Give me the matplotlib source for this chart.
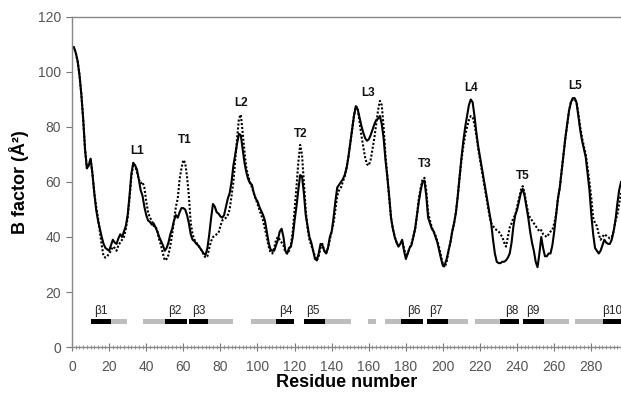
import matplotlib
matplotlib.use("Agg")
import matplotlib.pyplot as plt
from matplotlib.ticker import MultipleLocator
import numpy as np

plt.rcParams['font.family'] = ['Liberation Sans', 'DejaVu Sans']

residues = list(range(0, 297))

b_solid = [
    109, 109, 107, 104, 99, 92, 83, 72, 65, 66,
    68.5, 63, 56, 50, 46, 43, 40, 37.5, 36, 35.5,
    35, 37, 39, 38, 37.5, 39.5, 41, 40, 42, 44,
    48, 55, 63, 67, 66, 64.5, 61, 57, 55, 51,
    48, 46, 45.5, 44.5, 45, 43.5, 42, 40, 38.5, 37,
    35, 36, 38, 41, 43, 46, 48, 47, 49, 50.5,
    50.5, 50, 48, 45, 41, 39, 38.5, 37.5, 37, 36,
    35, 34, 33.5, 36, 41, 47, 52, 51, 49, 48.5,
    47.5, 47, 48, 51, 54, 56, 60, 66, 70, 74,
    77.5, 77, 72, 67, 63.5, 61, 59.5, 59, 56, 54,
    53, 51, 49.5, 48, 46, 42, 38, 35.5, 35, 35,
    37, 39, 42, 43, 40, 35, 34, 36, 36.5, 40,
    46, 51, 57, 62.5, 62, 56, 48, 44, 40, 38,
    35, 32, 31.5, 34, 37.5, 37, 35, 34, 36, 40,
    42, 47, 53, 58, 59, 60, 61, 62.5, 65, 69,
    74, 79, 84, 87.5, 86.5, 83.5, 80.5, 78, 76, 75,
    75.5, 77, 79, 81, 82.5, 83, 84, 81, 76, 68,
    62, 55, 47, 43, 40, 38, 36.5, 37.5, 39, 35,
    32, 34, 36, 37, 40, 43, 48, 53, 57, 60,
    60.5, 55, 47, 45, 43, 42, 40, 38, 35, 32,
    29.5, 30, 32, 35, 38, 42, 45, 49, 55, 62,
    69, 75, 80, 84, 88, 90, 89, 84, 78, 73,
    69, 65, 61, 57, 53, 49, 45, 39, 34, 31,
    30.5, 30.5, 31, 31, 31.5, 32.5, 34, 38, 44, 48,
    50, 53, 56, 57.5, 55, 51, 47, 42, 38, 35,
    31, 29, 34, 40, 36, 33, 33, 34, 34, 37,
    42, 48, 54, 58, 64, 70, 76, 81, 86, 89,
    90.5, 90.5, 89, 84, 79, 75, 72, 69, 63, 57,
    48, 41, 36, 35, 34, 35, 37, 39, 38, 37.5,
    37.5, 39, 42, 46, 52, 57, 60,
]

b_dotted = [
    109, 109, 107, 104, 99, 92, 83, 72, 65, 66,
    68.5, 63, 56, 51, 47, 42, 37, 33, 32.5, 33,
    34, 35, 36.5, 36, 35, 37, 38, 39, 40, 43,
    47, 54, 62, 66.5, 66, 63.5, 61, 59.5, 60, 58,
    53, 49, 47, 46, 44, 44, 42, 39, 37, 34,
    31.5, 32, 33.5, 37, 41, 46, 51, 54, 61, 65,
    68, 67, 62, 55, 45, 41, 39, 38, 37, 36,
    35, 33.5, 32.5, 33, 36, 38.5, 40, 40.5, 41, 41.5,
    44, 46, 46.5, 47, 48, 50, 55, 60, 68, 76,
    83, 84.5, 78, 71, 65, 62, 60, 58, 56, 54,
    52, 50, 48, 46, 43, 40, 36.5, 34.5, 34, 36,
    39, 40, 39, 38, 37, 34.5, 34, 35, 37, 42,
    50, 58, 67, 73.5, 70, 60, 50, 43, 39, 37,
    35, 33, 31.5, 33, 36, 37.5, 35, 34, 36, 39,
    42, 45, 50, 55, 57, 58, 60, 62, 65, 69,
    74, 79, 84, 87.5, 87, 82, 77, 73, 69, 66.5,
    66, 68, 72, 76, 81, 86, 89.5, 88, 80, 70,
    62, 54, 47, 43, 40, 38, 37, 37.5, 38.5, 36,
    33, 34, 36, 37.5, 40, 43, 48, 54, 58, 61,
    61.5, 57, 49, 46, 43.5, 42, 40.5, 38.5, 36, 33,
    30, 29, 31, 35, 38, 42, 45, 49, 55, 62,
    68, 73, 77, 80, 82.5, 84, 83.5, 81, 77, 72,
    68, 64, 60, 56, 52, 48, 45, 44, 43, 42.5,
    42, 41, 40, 38, 36.5, 40, 43.5, 45, 47, 48,
    51, 54, 57, 58.5, 56, 52, 48.5, 47, 46, 45,
    44, 43, 42, 42.5, 41, 40.5, 40, 41, 42, 42.5,
    45, 48, 54, 58, 64, 70, 76, 81, 86, 89,
    90, 90, 89, 85, 80, 76, 73, 70, 65, 60,
    54, 47, 45, 44, 41, 39, 40, 41, 40.5, 40,
    39.5, 40, 42, 46, 48, 52, 56,
]

peak_labels = ['L1', 'T1', 'L2', 'T2', 'L3', 'T3', 'L4', 'T5', 'L5']
peak_x = [35, 60.8, 91, 123.3, 159.4, 190, 214.9, 242.9, 271.4]
peak_y = [71.3, 75.3, 88.7, 77.5, 92.4, 66.5, 94.2, 62.2, 95]

# secondary structure segments: (start, end)
black_segments = [(10, 21), (50, 62), (63, 73.4), (110, 119.5), (125, 136.2),
                  (177.5, 189.5), (191.5, 202.5), (230.5, 241.2), (243, 254.3),
                  (286.5, 297)]
gray_segments = [(21, 29.6), (38.4, 50), (73.4, 87), (96.4, 110), (136.2, 150.6),
                 (159.6, 163.7), (169, 177.5), (202.5, 213.4), (217.4, 230.5),
                 (254.3, 268.2), (271.2, 286.5)]
beta_labels = ['β1', 'β2', 'β3', 'β4', 'β5', 'β6', 'β7', 'β8', 'β9', 'β10']
beta_x = [15.5, 55.5, 68.5, 115.5, 130, 184.5, 196, 237, 248.5, 291]

fig = plt.figure(figsize=(6.21, 3.95), dpi=100)
ax = fig.add_axes([0.116, 0.1215, 0.884, 0.8355])

ax.plot(residues, b_solid, color='black', lw=1.5, solid_joinstyle='round')
ax.plot(residues, b_dotted, color='black', lw=1.5, linestyle=(0, (1, 0.9)))

bar_y, bar_h = 8.4, 1.8
ax.broken_barh([(s, e - s) for s, e in gray_segments], (bar_y, bar_h),
               facecolors='#bdbdbd', edgecolor='none')
ax.broken_barh([(s, e - s) for s, e in black_segments], (bar_y, bar_h),
               facecolors='black', edgecolor='none')

for lab, x in zip(beta_labels, beta_x):
    ax.text(x, 13, lab, ha='center', va='center', fontsize=8.5, color='#222222')

for lab, x, y in zip(peak_labels, peak_x, peak_y):
    ax.text(x, y, lab, ha='center', va='center', fontsize=8.5, fontweight='bold',
            color='#111111')

ax.set_xlim(0, 296)
ax.set_ylim(0, 120)
ax.xaxis.set_major_locator(MultipleLocator(20))
ax.xaxis.set_minor_locator(MultipleLocator(2))
ax.yaxis.set_major_locator(MultipleLocator(20))

for side in ['right']:
    ax.spines[side].set_visible(False)
for side in ['left', 'bottom', 'top']:
    ax.spines[side].set_color('#888888')
    ax.spines[side].set_linewidth(1.0)

ax.tick_params(axis='x', which='major', direction='inout', length=6, width=0.8,
               color='#777777', labelsize=10, labelcolor='#555555', pad=6)
ax.tick_params(axis='x', which='minor', direction='inout', length=2.5, width=0.6,
               color='#888888')
ax.tick_params(axis='y', which='major', direction='out', length=4, width=0.8,
               color='#777777', labelsize=10, labelcolor='#555555', pad=4)

ax.set_xlabel('Residue number', fontsize=13, fontweight='bold', labelpad=0)
ax.set_ylabel('B factor (Å²)', fontsize=13, fontweight='bold', labelpad=6)

fig.savefig('out.png', dpi=100)
